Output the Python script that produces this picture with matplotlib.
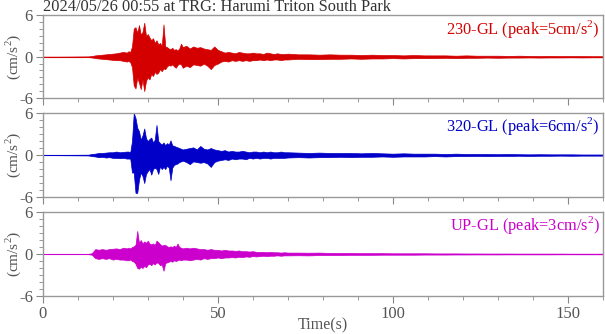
import numpy as np
import matplotlib
matplotlib.use("Agg")
import matplotlib.pyplot as plt
from matplotlib.ticker import MultipleLocator

# time grid of the read-off samples (s): flat lead-in, then denser where the shaking is
t = np.concatenate([[0.0], np.arange(13, 25, 1.0), np.arange(24.5, 40.5, 0.5),
                    np.arange(41, 71, 1.0), np.arange(73, 161, 3.0)])

# upper / lower envelope (cm/s^2)
ns_hi = [0.0,
         0.05, 0.1, 0.2, 0.25, 0.3, 0.35, 0.4, 0.45, 0.5, 0.6, 0.7, 0.6,
         0.8, 0.7, 1.5, 4.1, 4.3, 3.5, 4.6, 3.2, 3.6, 4.95, 3.0, 3.3, 2.8, 2.4, 2.7, 2.0,
         2.4, 1.8, 2.0, 1.6, 4.7, 1.5, 1.4, 1.2, 1.1, 1.3, 1.0, 1.1, 0.9, 1.2, 1.9, 1.4,
         1.6, 1.2, 1.5, 1.3, 1.4, 1.2, 1.1, 1.0, 1.5, 1.0, 0.8, 0.6, 0.7, 0.6, 0.5,
         0.7, 0.6, 0.5, 0.5, 0.6, 0.5, 0.5, 0.4, 0.6, 0.5, 0.4, 0.5, 0.4, 0.4, 0.45,
         0.35, 0.35, 0.3, 0.35, 0.3, 0.3, 0.25, 0.3, 0.25, 0.25, 0.2, 0.25, 0.2, 0.2, 0.2,
         0.15, 0.2, 0.15, 0.15, 0.15, 0.12, 0.15, 0.12, 0.1, 0.12, 0.1, 0.1, 0.1, 0.08, 0.08]
ns_lo = [0.0,
         -0.05, -0.1, -0.2, -0.25, -0.3, -0.35, -0.4, -0.45, -0.5, -0.5, -0.6, -0.7,
         -0.6, -0.8, -1.5, -4.2, -4.6, -3.0, -3.8, -4.7, -3.3, -5.0, -3.5, -3.0, -3.3, -2.5, -2.8, -2.2,
         -2.5, -2.3, -1.8, -2.1, -1.7, -1.8, -1.4, -1.2, -1.3, -1.1, -1.4, -1.6, -1.2, -1.0, -1.1, -1.6,
         -1.3, -1.5, -1.1, -1.2, -1.3, -1.0, -1.3, -1.8, -1.2, -1.0, -0.7, -0.6, -0.7, -0.5, -0.6,
         -0.5, -0.6, -0.5, -0.6, -0.5, -0.5, -0.4, -0.5, -0.4, -0.5, -0.4, -0.4, -0.5, -0.4, -0.4,
         -0.3, -0.35, -0.35, -0.3, -0.3, -0.25, -0.3, -0.25, -0.25, -0.2, -0.25, -0.2, -0.2, -0.2, -0.15,
         -0.2, -0.15, -0.15, -0.12, -0.15, -0.12, -0.12, -0.1, -0.12, -0.1, -0.1, -0.08, -0.1, -0.08, -0.08]

ew_hi = [0.0,
         0.05, 0.15, 0.2, 0.3, 0.3, 0.35, 0.4, 0.4, 0.5, 0.4, 0.45, 0.5,
         0.5, 0.4, 2.0, 6.0, 5.3, 3.9, 3.4, 2.2, 2.8, 3.8, 2.4, 2.0, 2.3, 2.5, 1.8, 2.2,
         4.3, 2.0, 1.7, 1.5, 1.8, 1.4, 1.7, 1.5, 2.1, 1.4, 1.3, 1.2, 1.1, 1.0, 0.9, 0.8,
         0.9, 1.0, 1.1, 0.8, 1.3, 0.9, 0.8, 1.0, 0.8, 0.7, 0.6, 0.7, 0.5, 0.6, 0.5,
         0.5, 0.6, 0.5, 0.4, 0.5, 0.5, 0.4, 0.5, 0.4, 0.5, 0.4, 0.4, 0.5, 0.4, 0.4,
         0.35, 0.3, 0.35, 0.3, 0.3, 0.3, 0.25, 0.3, 0.25, 0.2, 0.25, 0.2, 0.2, 0.2, 0.15,
         0.2, 0.15, 0.15, 0.15, 0.12, 0.15, 0.12, 0.1, 0.12, 0.1, 0.1, 0.1, 0.08, 0.08, 0.08]
ew_lo = [0.0,
         -0.05, -0.15, -0.2, -0.3, -0.25, -0.35, -0.3, -0.4, -0.4, -0.45, -0.4, -0.5,
         -0.5, -0.5, -2.5, -2.5, -5.4, -5.4, -3.5, -2.5, -3.0, -4.0, -2.7, -2.3, -2.0, -2.8, -2.0, -1.8,
         -2.0, -2.7, -1.6, -2.0, -1.7, -2.0, -1.5, -1.8, -3.6, -1.8, -1.4, -1.3, -1.2, -1.0, -0.9, -0.8,
         -1.0, -1.3, -0.9, -1.0, -1.1, -1.0, -1.2, -1.7, -1.0, -0.8, -0.7, -0.6, -0.7, -0.5, -0.6,
         -0.5, -0.5, -0.6, -0.4, -0.5, -0.4, -0.5, -0.4, -0.4, -0.5, -0.4, -0.4, -0.4, -0.4, -0.35,
         -0.3, -0.35, -0.3, -0.3, -0.25, -0.3, -0.25, -0.25, -0.2, -0.25, -0.2, -0.2, -0.2, -0.15, -0.2,
         -0.15, -0.15, -0.12, -0.15, -0.12, -0.12, -0.1, -0.12, -0.1, -0.1, -0.08, -0.1, -0.08, -0.08, -0.08]

ud_hi = [0.0,
         0.02, 0.1, 0.7, 0.6, 0.7, 0.6, 0.7, 0.75, 0.8, 0.7, 0.9, 0.8,
         0.9, 0.8, 1.0, 1.1, 1.3, 3.3, 1.6, 2.0, 1.5, 1.8, 1.6, 1.9, 1.5, 1.4, 1.5, 1.3,
         1.9, 1.7, 1.4, 1.2, 1.3, 1.3, 1.1, 1.0, 1.1, 1.0, 1.2, 1.0, 1.5, 1.0, 0.9, 0.8,
         0.9, 0.8, 0.9, 0.8, 0.7, 0.7, 0.6, 0.7, 0.6, 0.6, 0.5, 0.6, 0.5, 0.5, 0.45,
         0.5, 0.4, 0.4, 0.35, 0.4, 0.3, 0.3, 0.3, 0.25, 0.3, 0.25, 0.25, 0.2, 0.25, 0.2,
         0.2, 0.18, 0.2, 0.15, 0.15, 0.15, 0.12, 0.12, 0.12, 0.1, 0.1, 0.1, 0.1, 0.08, 0.08,
         0.08, 0.07, 0.07, 0.06, 0.06, 0.06, 0.05, 0.05, 0.05, 0.05, 0.05, 0.04, 0.04, 0.04, 0.04]
ud_lo = [0.0,
         -0.02, -0.1, -0.6, -0.7, -0.6, -0.7, -0.6, -0.8, -0.7, -0.8, -0.8, -0.9,
         -0.9, -0.8, -1.0, -1.1, -1.4, -2.0, -2.1, -1.8, -2.0, -1.7, -1.9, -1.5, -1.4, -1.6, -1.3, -1.5,
         -1.2, -1.3, -1.6, -1.5, -2.4, -1.3, -1.2, -1.1, -1.0, -1.1, -0.9, -1.0, -0.9, -0.8, -0.9, -0.8,
         -0.8, -0.9, -0.8, -0.7, -0.8, -0.6, -0.7, -0.6, -0.6, -0.5, -0.6, -0.5, -0.5, -0.45, -0.5,
         -0.4, -0.45, -0.35, -0.4, -0.3, -0.35, -0.3, -0.25, -0.3, -0.25, -0.25, -0.2, -0.25, -0.2, -0.2,
         -0.18, -0.2, -0.15, -0.15, -0.15, -0.12, -0.12, -0.12, -0.1, -0.1, -0.1, -0.1, -0.08, -0.08, -0.08,
         -0.07, -0.07, -0.06, -0.06, -0.06, -0.05, -0.05, -0.05, -0.05, -0.05, -0.04, -0.04, -0.04, -0.04, -0.04]

labels = ["230-GL (peak=5cm/s$^2$)", "320-GL (peak=6cm/s$^2$)", "UP-GL (peak=3cm/s$^2$)"]
colors = ["#d40000", "#0000c8", "#cc00cc"]
his = [ns_hi, ew_hi, ud_hi]
los = [ns_lo, ew_lo, ud_lo]

title = "2024/05/26 00:55 at TRG: Harumi Triton South Park"

plt.rcParams["font.family"] = ["Liberation Serif", "DejaVu Serif"]
plt.rcParams["mathtext.fontset"] = "custom"
plt.rcParams["mathtext.rm"] = "Liberation Serif"

fig = plt.figure(figsize=(6.05, 3.34), dpi=100)
gray = "#555555"
boxes = [(0.0706, 0.7066, 0.926, 0.2470),
         (0.0706, 0.4100, 0.926, 0.2515),
         (0.0706, 0.1138, 0.926, 0.2515)]

for i, box in enumerate(boxes):
    ax = fig.add_axes(box)
    # band between the max and min trace values at each read-off time
    ax.fill_between(t, los[i], his[i], color=colors[i], lw=0.5, edgecolor=colors[i])
    ax.axhline(0, color=colors[i], lw=0.8)
    ax.set_xlim(0, 160)
    ax.set_ylim(-6, 6)
    ax.set_yticks([-6, 0, 6])
    ax.set_yticklabels(["-6", "0", "6"])
    ax.yaxis.set_minor_locator(MultipleLocator(1))
    ax.xaxis.set_major_locator(MultipleLocator(50))
    ax.xaxis.set_minor_locator(MultipleLocator(10))
    ax.tick_params(which="major", direction="out", length=5, color="#888888",
                   labelcolor=gray, labelsize=12, pad=2)
    ax.tick_params(which="minor", direction="out", length=3, color="#888888")
    for s in ax.spines.values():
        s.set_color("#999999")
        s.set_linewidth(1.0)
    if i < 2:
        ax.tick_params(labelbottom=False)
    ax.set_ylabel("(cm/s$^2$)", color=gray, fontsize=11)
    ax.yaxis.set_label_coords(-0.036, 0.5)
    ax.text(0.995, 0.975, labels[i], transform=ax.transAxes, ha="right", va="top",
            color=colors[i], fontsize=11.8)
    if i == 0:
        ax.set_title(title, loc="left", color="#333333", fontsize=11.8, pad=1, x=0.0)
    if i == 2:
        ax.set_xlabel("Time(s)", color=gray, fontsize=11.5, labelpad=-3)

fig.savefig("out.png", dpi=100)
